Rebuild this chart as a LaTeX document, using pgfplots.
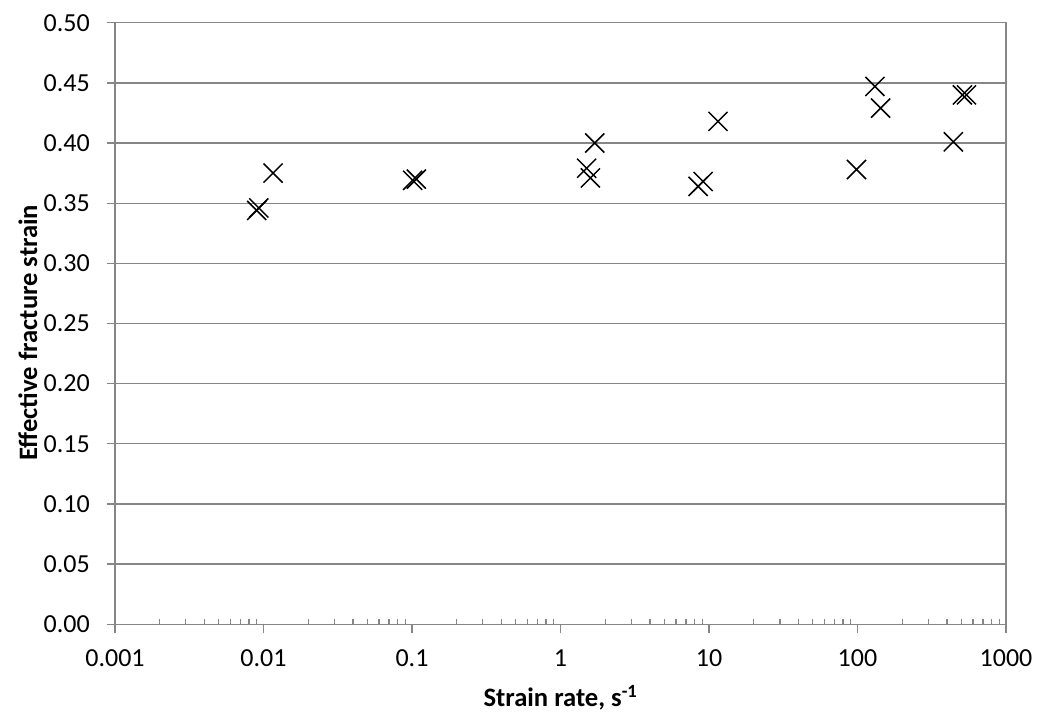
\documentclass[border=0pt]{standalone}
\usepackage{fontspec}
\setmainfont{Carlito}
\usepackage{pgfplots}
\pgfplotsset{compat=1.18}

\definecolor{axisgray}{RGB}{134,134,134}

\begin{document}
\begin{tikzpicture}
\begin{axis}[
  scale only axis,
  width=891pt, height=601.6pt,
  xmode=log,
  xmin=0.001, xmax=1000,
  ymin=0, ymax=0.5,
  xtick={0.001,0.01,0.1,1,10,100,1000},
  xticklabels={0.001,0.01,0.1,1,10,100,1000},
  minor xtick={0.002,0.003,0.004,0.005,0.006,0.007,0.008,0.009,
               0.02,0.03,0.04,0.05,0.06,0.07,0.08,0.09,
               0.2,0.3,0.4,0.5,0.6,0.7,0.8,0.9,
               2,3,4,5,6,7,8,9,
               20,30,40,50,60,70,80,90,
               200,300,400,500,600,700,800,900},
  ytick={0,0.05,0.1,0.15,0.2,0.25,0.3,0.35,0.4,0.45,0.5},
  yticklabels={0.00,0.05,0.10,0.15,0.20,0.25,0.30,0.35,0.40,0.45,0.50},
  xtick pos=bottom, ytick pos=left,
  tick align=inside,
  major tick length=8pt,
  minor tick length=5pt,
  major x tick style={yshift=-9pt},
  major y tick style={xshift=-8pt},
  tick style={axisgray, line width=1.3pt},
  axis line style={axisgray, line width=1.3pt},
  ymajorgrids,
  major grid style={axisgray, line width=1.3pt},
  ticklabel style={font=\fontsize{26}{30}\selectfont, text=black},
  xticklabel style={anchor=center, yshift=-34pt},
  yticklabel style={anchor=east, inner sep=0pt, xshift=-25pt},
  label style={font=\fontsize{26.6}{30}\selectfont\bfseries},
  xlabel={Strain rate, s\textsuperscript{-1}},
  ylabel={Effective fracture strain},
  xlabel style={at={(axis description cs:0.5,-0.137)}, anchor=base},
  ylabel style={at={(axis description cs:-0.0875,0.485)}, anchor=base},
  clip=false,
]
\addplot[only marks, mark=x, mark size=13.5pt, mark options={line width=1.5pt, black}]
  coordinates {
    (0.0090,0.344) (0.0093,0.346) (0.0116,0.375)
    (0.101,0.369) (0.107,0.370)
    (1.50,0.379) (1.59,0.371) (1.70,0.400)
    (8.45,0.364) (9.13,0.368) (11.5,0.418)
    (98.4,0.378) (131,0.447) (143,0.429)
    (442,0.401) (509,0.440) (542,0.440)
  };
\end{axis}
\pgfresetboundingbox
\path[use as bounding box] (-115pt,-89.7pt) rectangle (926pt,624.3pt);
\end{tikzpicture}
\end{document}
